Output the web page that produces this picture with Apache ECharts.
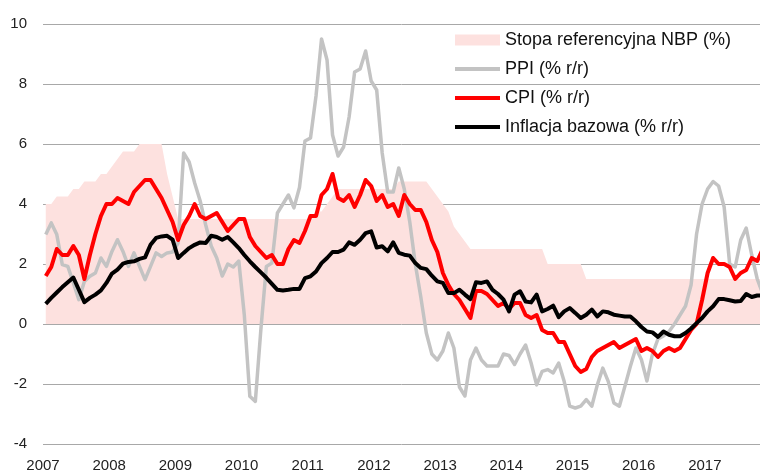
<!DOCTYPE html>
<html>
<head>
<meta charset="utf-8">
<script src="https://cdn.jsdelivr.net/npm/echarts@6.0.0/dist/echarts.min.js"></script>
<style>
html,body{margin:0;padding:0;background:#ffffff;}
#chart{width:760px;height:472px;}
</style>
</head>
<body>
<div id="chart"></div>
<script>
// ---- data (monthly, Jan 2007 .. Dec 2017) ----
const firstYear = 2007;
const yearLabels = ['2007','2008','2009','2010','2011','2012','2013','2014','2015','2016','2017'];
const seriesNames = ['Stopa referencyjna NBP (%)', 'PPI (% r/r)', 'CPI (% r/r)', 'Inflacja bazowa (% r/r)'];

const nbpRate = [
  4.0, 4.0, 4.25, 4.25, 4.25, 4.5, 4.5, 4.75, 4.75, 4.75, 5.0, 5.0,
  5.25, 5.5, 5.75, 5.75, 5.75, 6.0, 6.0, 6.0, 6.0, 6.0, 5.0, 4.25,
  3.5, 3.5, 3.5, 3.5, 3.5, 3.5, 3.5, 3.5, 3.5, 3.5, 3.5, 3.5,
  3.5, 3.5, 3.5, 3.5, 3.5, 3.5, 3.5, 3.5, 3.5, 3.5, 3.5, 3.5,
  3.5, 3.75, 3.75, 4.0, 4.25, 4.5, 4.5, 4.5, 4.5, 4.5, 4.5, 4.5,
  4.5, 4.5, 4.5, 4.5, 4.75, 4.75, 4.75, 4.75, 4.75, 4.75, 4.5, 4.25,
  4.0, 3.75, 3.25, 3.0, 2.75, 2.5, 2.5, 2.5, 2.5, 2.5, 2.5, 2.5,
  2.5, 2.5, 2.5, 2.5, 2.5, 2.5, 2.5, 2.0, 2.0, 2.0, 2.0, 2.0,
  2.0, 2.0, 1.5, 1.5, 1.5, 1.5, 1.5, 1.5, 1.5, 1.5, 1.5, 1.5,
  1.5, 1.5, 1.5, 1.5, 1.5, 1.5, 1.5, 1.5, 1.5, 1.5, 1.5, 1.5,
  1.5, 1.5, 1.5, 1.5, 1.5, 1.5, 1.5, 1.5, 1.5, 1.5, 1.5, 1.5
];

const ppi = [
  2.98, 3.37, 2.98, 1.98, 1.92, 1.37, 0.81, 1.42, 1.59, 1.7, 2.2, 1.92,
  2.42, 2.81, 2.42, 1.92, 2.37, 1.92, 1.48, 1.92, 2.37, 2.25, 2.37, 2.4,
  2.7, 5.7, 5.4, 4.7, 4.1, 3.3, 2.6, 2.2, 1.6, 2.0, 1.9, 2.1,
  0.3, -2.41, -2.58, -0.19, 1.92, 2.03, 3.7, 4.0, 4.3, 3.87, 4.55, 6.1,
  6.2, 7.6, 9.5, 8.8, 6.3, 5.6, 5.9, 6.9, 8.4, 8.5, 9.1, 8.1,
  7.8, 5.7, 4.4, 4.4, 5.2, 4.5, 3.4, 2.0, 0.9, -0.3, -1.0, -1.2,
  -0.9, -0.3, -0.8, -2.1, -2.4, -1.2, -0.8, -1.2, -1.4, -1.4, -1.4, -1.0,
  -1.05, -1.35, -1.0, -0.7, -1.3, -2.03, -1.58, -1.52, -1.63, -1.3, -1.92, -2.74,
  -2.8, -2.74, -2.52, -2.74, -2.03, -1.47, -1.92, -2.63, -2.74, -2.08, -1.41, -0.8,
  -1.19, -1.9, -1.0, -0.5, -0.4, -0.25, 0.0, 0.3, 0.6, 1.3, 3.0, 4.0,
  4.5, 4.75, 4.6, 3.9, 2.0, 1.9, 2.8, 3.2, 2.3, 1.5, 1.0, 1.0
];

const cpi = [
  1.6, 1.9, 2.5, 2.3, 2.3, 2.6, 2.3, 1.5, 2.3, 3.0, 3.6, 4.0,
  4.0, 4.2, 4.1, 4.0, 4.4, 4.6, 4.8, 4.8, 4.5, 4.2, 3.8, 3.4,
  2.8, 3.3, 3.6, 4.0, 3.6, 3.5, 3.6, 3.7, 3.4, 3.1, 3.3, 3.5,
  3.5, 2.9, 2.6, 2.4, 2.2, 2.3, 2.0, 2.0, 2.5, 2.8, 2.7, 3.1,
  3.6, 3.6, 4.3, 4.5, 5.0, 4.2, 4.1, 4.3, 3.9, 4.3, 4.8, 4.6,
  4.1, 4.3, 3.9, 4.0, 3.6, 4.3, 4.0, 3.8, 3.8, 3.4, 2.8, 2.4,
  1.7, 1.3, 1.0, 0.8, 0.5, 0.2, 1.1, 1.1, 1.0, 0.8, 0.6, 0.7,
  0.5, 0.7, 0.7, 0.3, 0.2, 0.3, -0.2, -0.3, -0.3, -0.6, -0.6, -1.0,
  -1.4, -1.6, -1.5, -1.1, -0.9, -0.8, -0.7, -0.6, -0.8, -0.7, -0.6, -0.5,
  -0.9, -0.8, -0.9, -1.1, -0.9, -0.8, -0.9, -0.8, -0.5, -0.2, 0.0, 0.8,
  1.7, 2.2, 2.0, 2.0, 1.9, 1.5, 1.7, 1.8, 2.2, 2.1, 2.5, 2.1
];

const coreInfl = [
  0.67, 0.87, 1.05, 1.23, 1.39, 1.55, 1.14, 0.73, 0.87, 0.98, 1.12, 1.37,
  1.68, 1.81, 2.01, 2.07, 2.09, 2.17, 2.22, 2.64, 2.87, 2.92, 2.94, 2.81,
  2.2, 2.37, 2.53, 2.64, 2.72, 2.7, 2.94, 2.9, 2.81, 2.9, 2.72, 2.53,
  2.3, 2.09, 1.9, 1.72, 1.54, 1.34, 1.14, 1.12, 1.14, 1.17, 1.17, 1.53,
  1.59, 1.75, 2.03, 2.2, 2.4, 2.4, 2.48, 2.72, 2.64, 2.81, 3.03, 3.09,
  2.55, 2.59, 2.42, 2.72, 2.37, 2.31, 2.28, 2.03, 1.87, 1.83, 1.61, 1.42,
  1.37, 1.03, 1.03, 1.14, 0.98, 0.83, 1.39, 1.37, 1.42, 1.14, 1.0, 0.81,
  0.42, 0.98, 1.09, 0.75, 0.72, 0.98, 0.42, 0.5, 0.61, 0.23, 0.42, 0.53,
  0.37, 0.2, 0.31, 0.48, 0.25, 0.42, 0.39, 0.31, 0.28, 0.25, 0.25, 0.09,
  -0.1, -0.25, -0.28, -0.43, -0.25, -0.36, -0.41, -0.41, -0.3, -0.15, 0.03, 0.2,
  0.42, 0.59, 0.83, 0.83, 0.79, 0.75, 0.77, 1.0, 0.9, 0.95, 0.95, 0.9
];

const yTicks = { min: -4, max: 10, step: 2 };

// ---- build ----
// x position of month i: middle of the month, counted in months from Jan 2007
function toPoints(arr) { return arr.map((v, i) => [i + 0.5, v]); }

const FONT = "'Liberation Sans', Arial, sans-serif";
const LINE_ICON = 'path://M0,0H45V4H0Z';
const chart = echarts.init(document.getElementById('chart'), null, { renderer: 'canvas' });

const option = {
  animation: false,
  backgroundColor: '#ffffff',
  grid: { left: 43, right: 0, top: 24, bottom: 28, containLabel: false, outerBoundsMode: 'none' },
  legend: {
    orient: 'vertical',
    left: 455,
    top: 31,
    padding: 0,
    itemWidth: 45,
    itemHeight: 11,
    itemGap: 11,
    symbolKeepAspect: true,
    textStyle: { fontFamily: FONT, fontSize: 18, color: '#111111' },
    data: [
      { name: seriesNames[0], icon: 'rect' },
      { name: seriesNames[1], icon: LINE_ICON },
      { name: seriesNames[2], icon: LINE_ICON },
      { name: seriesNames[3], icon: LINE_ICON }
    ]
  },
  xAxis: {
    type: 'value',
    min: 0,
    max: 130,
    interval: 12,
    axisLine: { show: false },
    axisTick: { show: false },
    splitLine: { show: false },
    axisLabel: {
      showMaxLabel: false,
      margin: 14,
      fontFamily: FONT,
      fontSize: 15,
      color: '#222222',
      formatter: function (v) {
        if (v % 12 !== 0) return '';
        const k = v / 12;
        return yearLabels[k] !== undefined ? yearLabels[k] : '';
      }
    }
  },
  yAxis: {
    type: 'value',
    min: yTicks.min,
    max: yTicks.max,
    interval: yTicks.step,
    axisLine: { show: false },
    axisTick: { show: false },
    splitLine: { show: true, lineStyle: { color: '#a8a8a8', width: 1 } },
    axisLabel: { margin: 16, fontFamily: FONT, fontSize: 15, color: '#222222' }
  },
  series: [
    {
      name: seriesNames[0],
      type: 'line',
      data: toPoints(nbpRate),
      symbol: 'none',
      showSymbol: false,
      color: '#fde1df',
      itemStyle: { color: '#fde1df' },
      lineStyle: { width: 0, color: '#fde1df' },
      areaStyle: { color: '#fde1df', opacity: 1 },
      z: 1
    },
    {
      name: seriesNames[1],
      type: 'line',
      data: toPoints(ppi),
      symbol: 'none',
      showSymbol: false,
      color: '#c3c3c3',
      itemStyle: { color: '#c3c3c3' },
      lineStyle: { width: 3.5, color: '#c3c3c3', join: 'round' },
      z: 2
    },
    {
      name: seriesNames[2],
      type: 'line',
      data: toPoints(cpi),
      symbol: 'none',
      showSymbol: false,
      color: '#ff0000',
      itemStyle: { color: '#ff0000' },
      lineStyle: { width: 4, color: '#ff0000', join: 'round' },
      z: 3
    },
    {
      name: seriesNames[3],
      type: 'line',
      data: toPoints(coreInfl),
      symbol: 'none',
      showSymbol: false,
      color: '#000000',
      itemStyle: { color: '#000000' },
      lineStyle: { width: 4, color: '#000000', join: 'round' },
      z: 4
    }
  ]
};
chart.setOption(option);
</script>
</body>
</html>
